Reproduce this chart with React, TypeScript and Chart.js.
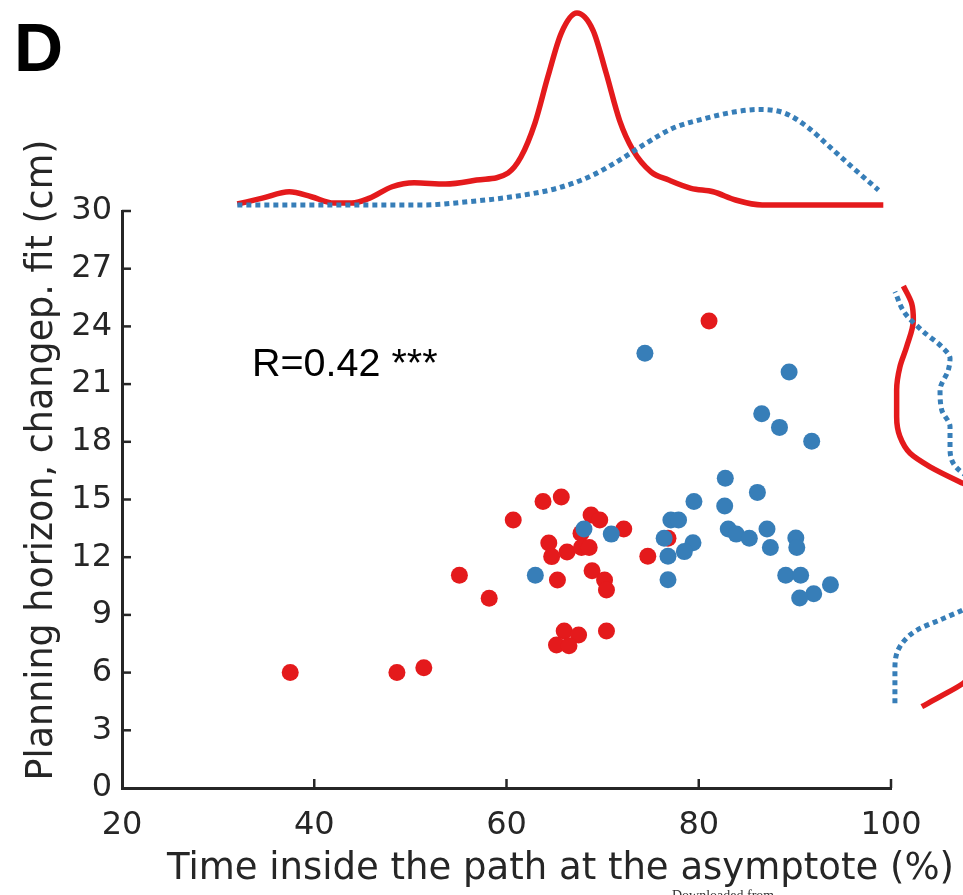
import React, { useEffect, useRef } from "react";
import { Chart, registerables } from "chart.js";

Chart.register(...registerables);

// ---------- data ----------
const RED = "#E41A1C";
const BLUE = "#377EB8";
const AXIS = "#262626";

const xTicks = [20, 40, 60, 80, 100];
const yTicks = [0, 3, 6, 9, 12, 15, 18, 21, 24, 27, 30];

const redX = [37.5, 48.6, 51.4, 55.1, 58.2, 60.7, 63.8, 65.7, 68.8, 69.7, 64.4, 67.75, 66.3, 67.8, 68.6, 64.7, 65.3, 68.9, 70.2, 70.4, 66.0, 67.5, 65.2, 66.5, 70.4, 81.07, 72.2, 76.8, 74.7];
const redY = [6.0, 6.0, 6.25, 11.06, 9.86, 13.93, 14.9, 15.13, 14.19, 13.93, 12.74, 13.24, 12.27, 12.5, 12.5, 12.03, 10.81, 11.3, 10.81, 10.3, 8.16, 7.95, 7.44, 7.4, 8.16, 24.28, 13.47, 12.98, 12.05];

const blueX = [68.06, 70.9, 63.0, 74.4, 89.4, 86.55, 88.4, 91.75, 82.76, 86.1, 79.5, 82.7, 77.1, 77.9, 83.07, 83.9, 85.26, 87.1, 87.45, 90.1, 90.2, 76.4, 79.4, 78.5, 76.8, 76.8, 89.05, 90.6, 93.7, 91.96, 90.5];
const blueY = [13.47, 13.2, 11.06, 22.6, 21.63, 19.46, 18.75, 18.03, 16.1, 15.37, 14.9, 14.66, 13.93, 13.93, 13.47, 13.2, 12.98, 13.47, 12.51, 13.0, 12.51, 12.98, 12.75, 12.29, 12.05, 10.83, 11.06, 11.06, 10.57, 10.1, 9.88];

// top marginal density (x value, relative density)
const topRedGrid = [32.0, 34.6, 37.4, 39.7, 42.05, 43.9, 45.76, 48.1, 50.4, 53.65, 56.9, 60.16, 61.5, 62.96, 64.3, 65.7, 67.33, 69.0, 70.35, 71.77, 73.16, 75.03, 76.88, 79.2, 81.5, 83.84, 86.6, 99.2];
const topRedDens = [0.005, 0.036, 0.069, 0.043, 0.01, 0.01, 0.036, 0.095, 0.116, 0.109, 0.13, 0.167, 0.25, 0.427, 0.668, 0.896, 1.0, 0.91, 0.69, 0.44, 0.286, 0.173, 0.13, 0.087, 0.069, 0.026, 0.0, 0.0];
const topBlueGrid = [32.0, 51.3, 56.0, 60.6, 65.25, 69.0, 71.77, 74.5, 77.3, 80.6, 83.84, 86.37, 88.97, 91.26, 93.6, 95.9, 98.7];
const topBlueDens = [0.0, 0.0, 0.017, 0.043, 0.087, 0.156, 0.234, 0.321, 0.4, 0.45, 0.486, 0.498, 0.478, 0.408, 0.304, 0.2, 0.078];

// right marginal density (y value, relative density)
const rightRedGrid = [4.23, 4.75, 5.44, 6.5, 7.5, 9.0, 10.5, 12.0, 13.5, 15.0, 15.84, 16.7, 17.4, 18.27, 19.3, 20.7, 21.9, 22.94, 24.33, 25.2, 26.1];
const rightRedDens = [0.15, 0.245, 0.365, 0.48, 0.58, 0.7, 0.85, 0.95, 0.85, 0.55, 0.365, 0.193, 0.089, 0.036, 0.019, 0.019, 0.036, 0.071, 0.106, 0.097, 0.054];
const rightBlueGrid = [4.4, 6.14, 7.35, 8.2, 8.74, 9.26, 10.5, 12.0, 13.5, 15.0, 16.36, 16.88, 17.75, 18.79, 19.65, 20.69, 21.73, 22.34, 22.94, 23.73, 24.68, 25.8];
const rightBlueDens = [0.01, 0.01, 0.036, 0.123, 0.245, 0.365, 0.6, 0.75, 0.8, 0.6, 0.365, 0.314, 0.297, 0.297, 0.254, 0.245, 0.288, 0.297, 0.254, 0.158, 0.0625, 0.01];

// ---------- helpers ----------
const pts = (xs: number[], ys: number[]) => xs.map((x, i) => ({ x, y: ys[i] }));

const inwardTicks = {
  id: "inwardTicks",
  afterDraw(chart: any) {
    const { ctx, chartArea, scales } = chart;
    ctx.save();
    ctx.strokeStyle = AXIS;
    ctx.lineWidth = 2.5;
    scales.x.ticks.forEach((t: any) => {
      if (t.value === xTicks[0]) return;
      const px = scales.x.getPixelForValue(t.value);
      ctx.beginPath();
      ctx.moveTo(px, chartArea.bottom);
      ctx.lineTo(px, chartArea.bottom - 9);
      ctx.stroke();
    });
    scales.y.ticks.forEach((t: any) => {
      if (t.value === yTicks[0]) return;
      const py = scales.y.getPixelForValue(t.value);
      ctx.beginPath();
      ctx.moveTo(chartArea.left, py);
      ctx.lineTo(chartArea.left + 9, py);
      ctx.stroke();
    });
    ctx.restore();
  },
};

const TICK_FONT = { family: "'DejaVu Sans', sans-serif", size: 32 };

export default function App() {
  const mainRef = useRef<HTMLCanvasElement>(null);
  const topRef = useRef<HTMLCanvasElement>(null);
  const rightRef = useRef<HTMLCanvasElement>(null);

  useEffect(() => {
    const main = new Chart(mainRef.current!, {
      type: "scatter",
      data: {
        datasets: [
          { label: "blue", data: pts(blueX, blueY), backgroundColor: BLUE, borderWidth: 0, pointRadius: 8.5, pointHoverRadius: 8.5 },
          { label: "red", data: pts(redX, redY), backgroundColor: RED, borderWidth: 0, pointRadius: 8.5, pointHoverRadius: 8.5 },
        ],
      },
      options: {
        responsive: false,
        animation: false,
        events: [],
        layout: { padding: { left: 0, top: 211, right: 72, bottom: 0 } },
        plugins: { legend: { display: false }, tooltip: { enabled: false } },
        scales: {
          x: {
            type: "linear",
            min: 20,
            max: 100,
            afterBuildTicks: (s: any) => { s.ticks = xTicks.map((v) => ({ value: v })); },
            afterFit: (s: any) => { s.height = 107; },
            grid: { display: false, drawTicks: false },
            border: { display: true, color: AXIS, width: 3 },
            ticks: { font: TICK_FONT, color: AXIS, padding: 18, maxRotation: 0 },
          },
          y: {
            type: "linear",
            min: 0,
            max: 30,
            afterBuildTicks: (s: any) => { s.ticks = yTicks.map((v) => ({ value: v })); },
            afterFit: (s: any) => { s.width = 122; },
            grid: { display: false, drawTicks: false },
            border: { display: true, color: AXIS, width: 3 },
            ticks: { font: TICK_FONT, color: AXIS, padding: 10 },
          },
        },
      },
      plugins: [inwardTicks],
    } as any);

    const top = new Chart(topRef.current!, {
      type: "line",
      data: {
        datasets: [
          { data: pts(topBlueGrid, topBlueDens), borderColor: BLUE, borderWidth: 5, borderDash: [5, 4], pointRadius: 0, cubicInterpolationMode: "monotone", fill: false, clip: false },
          { data: pts(topRedGrid, topRedDens), borderColor: RED, borderWidth: 5.5, pointRadius: 0, cubicInterpolationMode: "monotone", fill: false, clip: false },
        ],
      },
      options: {
        responsive: false,
        animation: false,
        events: [],
        layout: { padding: { left: 10, right: 10, top: 0, bottom: 10 } },
        plugins: { legend: { display: false }, tooltip: { enabled: false } },
        scales: {
          x: { type: "linear", min: 20, max: 100, display: false },
          y: { type: "linear", min: 0, max: 1.068, display: false },
        },
      },
    } as any);

    const right = new Chart(rightRef.current!, {
      type: "line",
      data: {
        datasets: [
          { data: pts(rightBlueDens, rightBlueGrid), borderColor: BLUE, borderWidth: 5, borderDash: [5, 4], pointRadius: 0, cubicInterpolationMode: "monotone", fill: false, clip: false },
          { data: pts(rightRedDens, rightRedGrid), borderColor: RED, borderWidth: 5.5, pointRadius: 0, cubicInterpolationMode: "monotone", fill: false, clip: false },
        ],
      },
      options: {
        responsive: false,
        animation: false,
        events: [],
        indexAxis: "y",
        layout: { padding: 10 },
        plugins: { legend: { display: false }, tooltip: { enabled: false } },
        scales: {
          x: { type: "linear", min: 0, max: 1.0, display: false },
          y: { type: "linear", min: 0, max: 30, display: false },
        },
      },
    } as any);

    return () => {
      main.destroy();
      top.destroy();
      right.destroy();
    };
  }, []);

  const abs: React.CSSProperties = { position: "absolute" };
  return (
    <div style={{ position: "fixed", left: 0, top: 0, width: 963, height: 895, overflow: "hidden", background: "#fff" }}>
      <canvas ref={mainRef} width={963} height={895} style={{ ...abs, left: 0, top: 0, width: 963, height: 895 }} />
      <canvas ref={topRef} width={789} height={215} style={{ ...abs, left: 112, top: 0, width: 789, height: 215 }} />
      <canvas ref={rightRef} width={212} height={597} style={{ ...abs, left: 883, top: 201, width: 212, height: 597 }} />
      <div style={{ ...abs, left: 14, top: 13, font: "bold 68px 'Liberation Sans', Arial, sans-serif", lineHeight: "68px", color: "#000" }}>D</div>
      <div style={{ ...abs, left: 252, top: 343, font: "39.5px 'Liberation Sans', Arial, sans-serif", lineHeight: "39.5px", color: "#000", whiteSpace: "nowrap" }}>R=0.42 ***</div>
      <div style={{ ...abs, left: 167, top: 848, font: "37px 'DejaVu Sans', sans-serif", lineHeight: "37px", color: AXIS, whiteSpace: "nowrap" }}>Time inside the path at the asymptote (%)</div>
      <div style={{ ...abs, left: 40, top: 460, transform: "translate(-50%, -50%) rotate(-90deg)", font: "36.5px 'DejaVu Sans', sans-serif", lineHeight: "36.5px", color: AXIS, whiteSpace: "nowrap" }}>Planning horizon, changep. fit (cm)</div>
      <div style={{ ...abs, left: 672, top: 889, font: "14px 'Liberation Serif', serif", lineHeight: "14px", color: "#333", whiteSpace: "nowrap" }}>Downloaded from</div>
    </div>
  );
}
